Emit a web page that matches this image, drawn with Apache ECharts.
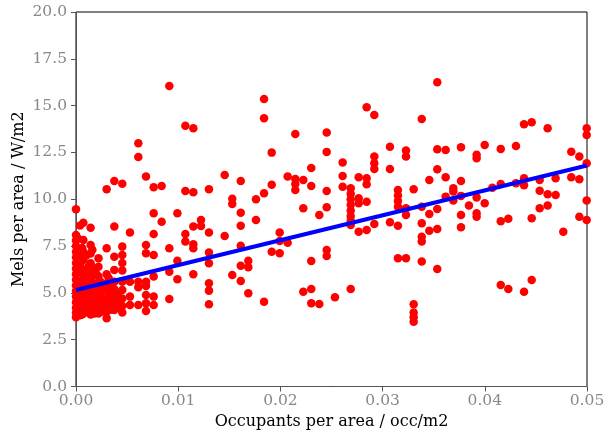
<!DOCTYPE html>
<html>
<head>
<meta charset="utf-8">
<script src="https://cdn.jsdelivr.net/npm/echarts@6/dist/echarts.min.js"></script>
<style>
html,body{margin:0;padding:0;background:#fff;}
#chart{width:609px;height:434px;}
</style>
</head>
<body>
<div id="chart"></div>
<script>
// Occupants per area (occ/m2) for each group of points sharing roughly the same x
const occupancy = [
  0.0, 0.0002, 0.0004, 0.0006, 0.00072, 0.001, 0.0012, 0.00143, 0.0016, 0.0018,
  0.002, 0.0022, 0.0024, 0.0026, 0.003, 0.0032, 0.0034, 0.00375, 0.0041, 0.00453,
  0.00528, 0.0061, 0.00685, 0.0076, 0.00838, 0.00913,
  0.00992, 0.0107, 0.01148, 0.01223, 0.01301, 0.01455, 0.01529, 0.01612, 0.01686, 0.01761,
  0.0184, 0.01915, 0.01993, 0.02071, 0.02146, 0.02224, 0.02302, 0.02381, 0.02453, 0.02534,
  0.02609, 0.02688, 0.02766, 0.02844, 0.02919, 0.03072, 0.0315, 0.03229, 0.03304, 0.03383,
  0.03457, 0.03535, 0.03617, 0.03692, 0.03767, 0.03845, 0.0392, 0.03999, 0.04074, 0.04156,
  0.0423, 0.04305, 0.04384, 0.04459, 0.04537, 0.04615, 0.04693, 0.04768, 0.04846, 0.04925,
  0.04997
];
// Mels per area (W/m2) for each group above
const mels = [
  [9.47, 8.09, 7.8, 7.5, 7.2, 6.9, 6.6, 6.3, 6.0, 5.7, 5.4, 5.1, 4.8, 4.5, 4.2, 3.95, 3.7],
  [7.9, 7.0, 6.1, 5.3, 4.6, 4.0],
  [8.6, 6.5, 5.6, 4.9, 4.3, 3.8],
  [7.4, 5.2, 4.4, 3.85],
  [8.75, 7.83, 7.2, 6.76, 6.2, 5.8, 5.4, 5.0, 4.6, 4.2, 3.9],
  [7.0, 6.0, 5.2, 4.5, 4.0],
  [6.4, 5.5, 4.8, 4.2],
  [8.48, 7.56, 7.1, 6.58, 6.1, 5.7, 5.3, 4.9, 4.5, 4.1, 3.85],
  [7.3, 5.9, 5.1, 4.4, 3.95],
  [6.3, 5.5, 4.8, 4.3, 3.9],
  [6.0, 5.2, 4.4],
  [6.85, 6.4, 5.87, 5.4, 5.0, 4.6, 4.2, 3.9],
  [5.6, 4.8, 4.1],
  [5.2, 4.7, 4.3, 4.0],
  [10.53, 7.38, 6.0, 5.5, 5.1, 4.7, 4.3, 4.0, 3.65],
  [5.8, 4.5],
  [5.3, 4.9, 4.5, 4.1],
  [10.98, 8.54, 6.93, 6.22, 5.6, 5.2, 4.8, 4.4, 4.08],
  [5.0, 4.6, 4.2],
  [10.83, 7.47, 7.02, 6.6, 6.2, 5.6, 5.15, 4.7, 4.3, 3.95],
  [8.22, 5.6, 4.8, 4.35],
  [12.99, 12.26, 5.6, 5.3, 4.35],
  [11.21, 7.56, 7.11, 5.6, 5.37, 4.89, 4.44, 4.03],
  [10.64, 9.25, 8.15, 7.02, 5.87, 4.8, 4.35],
  [10.71, 8.8],
  [16.05, 7.38, 6.13, 4.67],
  [9.25, 6.72, 5.73],
  [13.93, 10.44, 8.15, 7.74],
  [13.79, 10.37, 8.54, 7.6, 7.38, 5.99],
  [8.89, 8.57],
  [10.53, 8.22, 7.15, 6.58, 5.51, 5.12, 4.39],
  [11.3, 8.04],
  [10.03, 9.75, 5.96],
  [10.98, 9.28, 8.59, 7.52, 6.45, 5.64],
  [6.72, 6.37, 4.98],
  [10.0, 8.89],
  [15.36, 14.33, 10.32, 4.53],
  [12.49, 10.78, 7.2],
  [8.22, 7.77, 7.12],
  [11.21, 7.68],
  [13.49, 11.08, 10.82, 10.5],
  [11.03, 9.52, 5.06],
  [11.67, 10.71, 6.7, 5.21, 4.44],
  [9.16, 4.41],
  [13.56, 12.53, 10.44, 9.57, 7.29, 6.97],
  [4.77],
  [11.96, 11.24, 10.67],
  [10.59, 10.3, 10.0, 9.7, 9.4, 9.1, 8.85, 8.63, 5.21],
  [11.17, 10.05, 9.79, 8.27],
  [14.91, 11.12, 10.8, 9.87, 8.36],
  [14.5, 12.28, 11.92, 11.62, 8.68],
  [12.81, 11.62, 8.77],
  [10.5, 10.2, 9.9, 9.6, 8.59, 6.85],
  [12.6, 12.28, 9.52, 9.16, 6.85],
  [10.53, 4.39, 3.95, 3.7, 3.46],
  [14.29, 9.6, 8.72, 8.0, 7.74, 6.67],
  [11.03, 9.21, 8.32],
  [16.25, 12.67, 11.6, 9.48, 8.41, 6.28],
  [12.63, 11.17, 10.14],
  [10.59, 10.41, 9.93],
  [12.78, 10.98, 10.18, 9.16, 8.5],
  [9.66],
  [12.37, 12.19, 10.1, 9.25, 9.07],
  [12.9, 9.79],
  [10.62],
  [12.69, 10.82, 8.82, 5.42],
  [8.96, 5.21],
  [12.85, 10.85],
  [14.0, 11.12, 10.75, 5.06],
  [14.11, 8.98, 5.69],
  [11.03, 10.46, 9.52],
  [13.79, 10.27, 9.66],
  [11.12, 10.23],
  [8.27],
  [12.54, 11.17],
  [12.28, 11.07, 9.07],
  [13.79, 13.43, 11.92, 9.93, 8.89]
];
// Linear fit line end points
const fitX = [0.0, 0.05];
const fitY = [5.15, 11.8];

const xTicks = { min: 0, max: 0.05, interval: 0.01 };
const yTicks = { min: 0, max: 20, interval: 2.5 };

const points = [];
occupancy.forEach((x, i) => mels[i].forEach(y => points.push([x, y])));
const fitLine = fitX.map((x, i) => [x, fitY[i]]);

const chart = echarts.init(document.getElementById('chart'), null, { renderer: 'canvas' });
const FONT = 'DejaVu Serif';
chart.setOption({
  animation: false,
  backgroundColor: '#ffffff',
  grid: {
    left: 76, right: 22, top: 12, bottom: 47.5,
    containLabel: false, outerBoundsMode: 'none',
    show: true, borderColor: '#000', borderWidth: 1, backgroundColor: 'transparent'
  },
  xAxis: {
    type: 'value', min: xTicks.min, max: xTicks.max, interval: xTicks.interval,
    name: 'Occupants per area / occ/m2', nameLocation: 'middle', nameGap: 27, nameMoveOverlap: false,
    nameTextStyle: { fontFamily: FONT, fontSize: 16, color: '#000' },
    axisLine: { show: true, lineStyle: { color: '#555', width: 1 } },
    axisTick: { show: true, inside: false, length: 5, lineStyle: { color: '#555' } },
    axisLabel: { fontFamily: FONT, fontSize: 15.5, color: '#888', margin: 6, formatter: v => v.toFixed(2) },
    splitLine: { show: false }
  },
  yAxis: {
    type: 'value', min: yTicks.min, max: yTicks.max, interval: yTicks.interval,
    name: 'Mels per area / W/m2', nameLocation: 'middle', nameGap: 49, nameMoveOverlap: false,
    nameTextStyle: { fontFamily: FONT, fontSize: 16, color: '#000' },
    axisLine: { show: true, lineStyle: { color: '#555', width: 1 } },
    axisTick: { show: true, inside: false, length: 5, lineStyle: { color: '#555' } },
    axisLabel: { fontFamily: FONT, fontSize: 15.5, color: '#888', margin: 9, formatter: v => v.toFixed(1) },
    splitLine: { show: false }
  },
  series: [
    {
      type: 'scatter', data: points, symbol: 'circle', symbolSize: 8.5,
      itemStyle: { color: '#ff0000', opacity: 1 }, clip: true, z: 2
    },
    {
      type: 'line', data: fitLine, symbol: 'none', clip: true,
      lineStyle: { color: '#0000ff', width: 4 }, z: 3
    }
  ]
});
</script>
</body>
</html>
